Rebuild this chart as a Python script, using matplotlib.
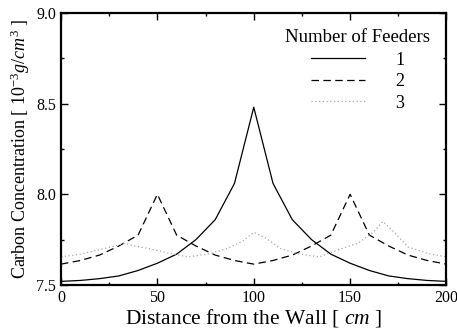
import numpy as np
import matplotlib
matplotlib.use('Agg')
from matplotlib import pyplot as plt
from matplotlib.ticker import MultipleLocator

plt.rcParams.update({'font.family': 'Liberation Serif',
                     'mathtext.fontset': 'custom',
                     'mathtext.rm': 'Liberation Serif',
                     'mathtext.it': 'Liberation Serif:italic'})

# one feeder (centre of the pot)
x1 = [0, 10, 20, 30, 40, 50, 60, 70, 80, 90, 100,
      110, 120, 130, 140, 150, 160, 170, 180, 190, 200]
c1 = [7.52, 7.525, 7.535, 7.55, 7.58, 7.62, 7.67, 7.75, 7.86, 8.06, 8.48,
      8.06, 7.86, 7.75, 7.67, 7.62, 7.58, 7.55, 7.535, 7.525, 7.52]

# two feeders
x2 = x1
c2 = [7.615, 7.635, 7.665, 7.715, 7.775, 8.0, 7.775, 7.715, 7.665, 7.635, 7.615,
      7.635, 7.665, 7.715, 7.775, 8.0, 7.775, 7.715, 7.665, 7.635, 7.615]

# three feeders
x3 = [0, 10, 20, 28, 33, 38, 46, 56, 66, 76, 86, 94, 100,
      106, 114, 124, 134, 144, 154, 162, 167, 172, 180, 190, 200]
c3 = [7.655, 7.67, 7.695, 7.715, 7.73, 7.715, 7.70, 7.675, 7.655, 7.67, 7.70, 7.74, 7.79,
      7.76, 7.70, 7.67, 7.655, 7.695, 7.73, 7.79, 7.85, 7.80, 7.71, 7.675, 7.655]

fig = plt.figure(figsize=(4.57, 3.31), dpi=100)
ax = fig.add_axes([0.1335, 0.139, 0.8435, 0.822])

ax.plot(x1, c1, c='k', lw=0.9, label='1')
ax.plot(x2, c2, c='k', lw=0.9, ls=(0, (6, 3.5)), label='2')
ax.plot(x3, c3, c='#a8a8a8', lw=0.9, ls=(0, (1, 2)), label='3')

ax.set_xlim(0, 200)
ax.set_ylim(7.5, 9.0)
ax.set_xticks([0, 50, 100, 150, 200])
ax.set_yticks([7.5, 8.0, 8.5, 9.0])
ax.set_yticklabels(['7.5', '8.0', '8.5', '9.0'])
ax.xaxis.set_minor_locator(MultipleLocator(25))
ax.yaxis.set_minor_locator(MultipleLocator(0.25))
ax.tick_params(which='both', direction='in', top=True, right=True, labelsize=11.5, width=1.0)
ax.tick_params(which='major', length=5)
ax.tick_params(which='minor', length=2.5)
for s in ax.spines.values():
    s.set_linewidth(1.6)

ax.set_xlabel(r'Distance from the Wall [ $\it{cm}$ ]', fontsize=15.5, labelpad=1)
ax.set_ylabel(r'Carbon Concentration [ $10^{-3}\it{g/cm}^3$ ]', fontsize=13, labelpad=3)

leg = ax.legend(title='Number of Feeders', loc='upper right', frameon=False,
                fontsize=13, title_fontsize=13.5, handlelength=3.0, handletextpad=1.7,
                labelspacing=0.25, borderaxespad=0.5)
leg._legend_box.sep = 4

plt.savefig('out.png', dpi=100)
plt.close()
